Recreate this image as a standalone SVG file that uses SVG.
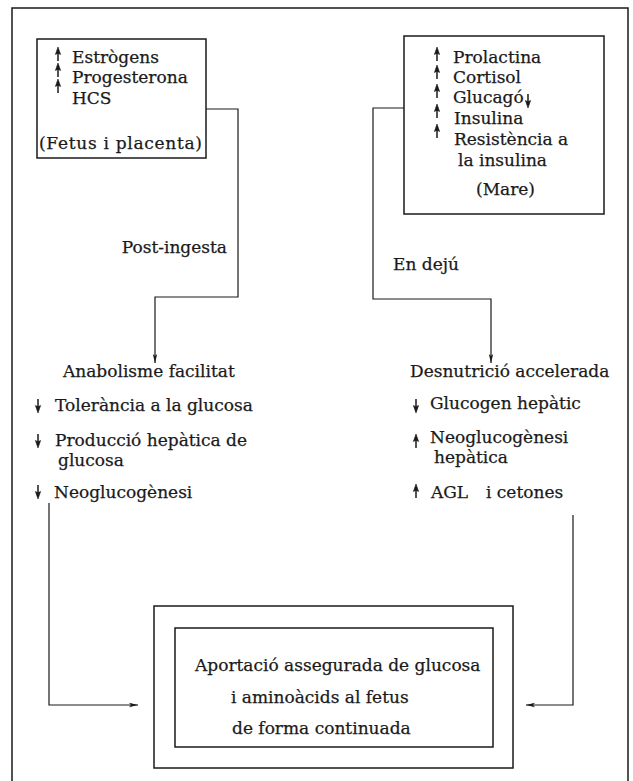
<svg xmlns="http://www.w3.org/2000/svg" width="633" height="781" viewBox="0 0 633 781">
<style>
  .t { font-family: "DejaVu Serif", "Liberation Serif", serif; font-size: 17px; fill: #1a1a1a; stroke: #1a1a1a; stroke-width: 0.25; }
  .box { fill: none; stroke: #1a1a1a; stroke-width: 1.5; }
  .ln { fill: none; stroke: #1a1a1a; stroke-width: 1.2; }
  .ar { fill: #1a1a1a; stroke: #1a1a1a; stroke-width: 0.6; }
</style>
<defs>
  <marker id="head" markerUnits="userSpaceOnUse" markerWidth="10" markerHeight="6" refX="9" refY="3" orient="auto">
    <path d="M0,0.8 L9,3 L0,5.2 L2,3 z" fill="#1a1a1a"/>
  </marker>
  <symbol id="up" viewBox="-4 0 8 14" width="8" height="14" overflow="visible">
    <path class="ar" d="M0,0 L2.6,7.5 L0,6.3 L-2.6,7.5 z"/>
    <line x1="0" y1="5" x2="0" y2="14" stroke="#1a1a1a" stroke-width="1.5"/>
  </symbol>
  <symbol id="down" viewBox="-4 0 8 14" width="8" height="14" overflow="visible">
    <path class="ar" d="M0,14 L2.6,6.5 L0,7.7 L-2.6,6.5 z"/>
    <line x1="0" y1="0" x2="0" y2="9" stroke="#1a1a1a" stroke-width="1.5"/>
  </symbol>
</defs>

<g id="frame">
  <rect class="box" x="12" y="8" width="616" height="800"/>
</g>

<g id="connectors">
  <path class="ln" d="M206,109 H238 V297 H155 V363" marker-end="url(#head)"/>
  <path class="ln" d="M404,108 H373 V299 H491 V363" marker-end="url(#head)"/>
  <path class="ln" d="M49,503 V705 H138" marker-end="url(#head)"/>
  <path class="ln" d="M573,515 V705 H526" marker-end="url(#head)"/>
</g>

<g id="box-fetus-placenta">
  <rect class="box" x="37" y="39" width="169" height="119"/>
  <use href="#up" x="54" y="47"/>
  <use href="#up" x="54" y="63"/>
  <use href="#up" x="54" y="79"/>
  <text class="t" x="72" y="63">Estrògens</text>
  <text class="t" x="72" y="83">Progesterona</text>
  <text class="t" x="72" y="104">HCS</text>
  <text class="t" x="39" y="149" textLength="163" lengthAdjust="spacing">(Fetus i placenta)</text>
</g>

<g id="box-mare">
  <rect class="box" x="404" y="36" width="200" height="178"/>
  <use href="#up" x="433" y="47"/>
  <use href="#up" x="433" y="65"/>
  <use href="#up" x="433" y="84"/>
  <use href="#up" x="433" y="104"/>
  <use href="#up" x="433" y="124"/>
  <text class="t" x="453" y="63">Prolactina</text>
  <text class="t" x="453" y="83">Cortisol</text>
  <text class="t" x="453" y="103">Glucagó</text>
  <use href="#down" x="524" y="94"/>
  <text class="t" x="454" y="124">Insulina</text>
  <text class="t" x="454" y="145">Resistència a</text>
  <text class="t" x="458" y="166">la insulina</text>
  <text class="t" x="476" y="195">(Mare)</text>
</g>

<g id="label-post-ingesta">
  <text class="t" x="227" y="253" text-anchor="end">Post-ingesta</text>
</g>

<g id="label-en-deju">
  <text class="t" x="393" y="270">En dejú</text>
</g>

<g id="node-anabolisme">
  <text class="t" x="63" y="377">Anabolisme facilitat</text>
  <use href="#down" x="34" y="399"/>
  <text class="t" x="55" y="411">Tolerància a la glucosa</text>
  <use href="#down" x="34" y="434"/>
  <text class="t" x="55" y="446">Producció hepàtica de</text>
  <text class="t" x="58" y="466">glucosa</text>
  <use href="#down" x="34" y="485"/>
  <text class="t" x="54" y="498">Neoglucogènesi</text>
</g>

<g id="node-desnutricio">
  <text class="t" x="410" y="377">Desnutrició accelerada</text>
  <use href="#down" x="412" y="399"/>
  <text class="t" x="430" y="409">Glucogen hepàtic</text>
  <use href="#up" x="412" y="434"/>
  <text class="t" x="430" y="443">Neoglucogènesi</text>
  <text class="t" x="434" y="463">hepàtica</text>
  <use href="#up" x="412" y="484"/>
  <text class="t" x="431" y="498">AGL</text>
  <text class="t" x="486" y="498">i cetones</text>
</g>

<g id="node-aportacio">
  <rect class="box" x="154" y="606" width="359" height="162"/>
  <rect class="box" x="175" y="628" width="318" height="119"/>
  <text class="t" x="195" y="671">Aportació assegurada de glucosa</text>
  <text class="t" x="231" y="703">i aminoàcids al fetus</text>
  <text class="t" x="232" y="734">de forma continuada</text>
</g>
</svg>
